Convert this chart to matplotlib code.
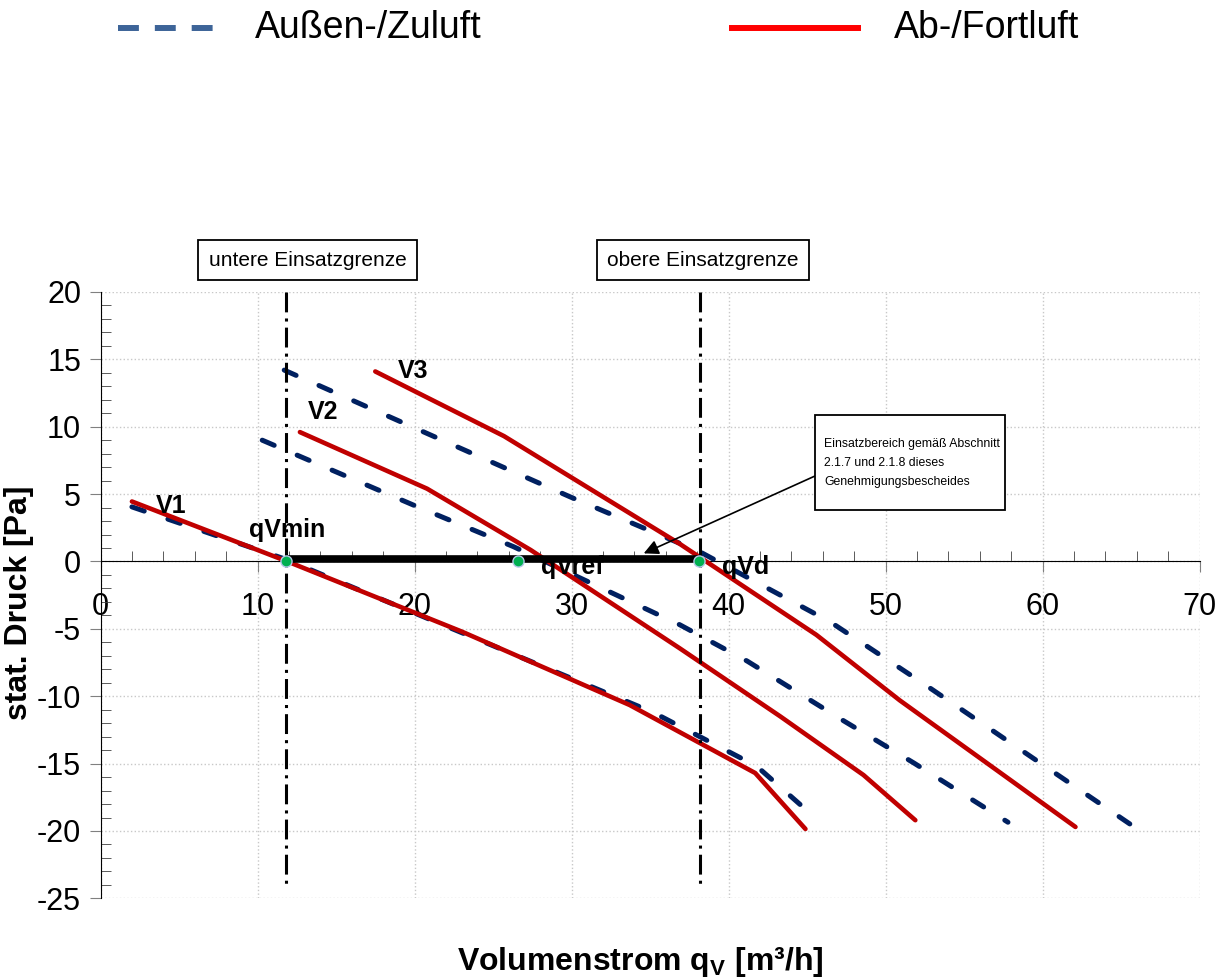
import numpy as np
import matplotlib.pyplot as plt
from matplotlib.lines import Line2D
from matplotlib.patches import Rectangle
from matplotlib.ticker import MultipleLocator

plt.rcParams['font.family'] = ['Liberation Sans', 'DejaVu Sans']
plt.rcParams['mathtext.fontset'] = 'custom'
plt.rcParams['mathtext.rm'] = 'Liberation Sans'
plt.rcParams['mathtext.bf'] = 'Liberation Sans:bold'
plt.rcParams['axes.unicode_minus'] = False

# Außen-/Zuluft (gestrichelt), Volumenstrom [m³/h] / stat. Druck [Pa]
zu_v1_q = [2.0, 11.7, 28.4, 35.2, 41.8, 45.5]
zu_v1_p = [4.05, 0.2, -7.9, -11.2, -15.2, -19.0]
zu_v2_q = [10.3, 19.9, 26.3, 36.9, 41.2, 47.3, 51.8, 57.8]
zu_v2_p = [9.0, 4.2, 1.1, -4.7, -7.4, -11.8, -14.95, -19.35]
zu_v3_q = [11.7, 29.9, 38.2, 46.5, 52.4, 66.6]
zu_v3_p = [14.2, 4.8, 0.7, -4.5, -9.05, -20.3]

# Ab-/Fortluft (durchgezogen)
ab_v1_q = [2.0, 11.9, 23.0, 33.7, 41.7, 44.9]
ab_v1_p = [4.45, 0.0, -5.2, -10.65, -15.7, -19.85]
ab_v2_q = [12.7, 20.8, 27.4, 36.9, 43.3, 48.6, 51.9]
ab_v2_p = [9.6, 5.4, 0.85, -6.45, -11.5, -15.85, -19.2]
ab_v3_q = [17.5, 25.7, 29.9, 36.9, 45.6, 50.9, 57.1, 62.1]
ab_v3_p = [14.1, 9.3, 6.3, 1.3, -5.45, -10.3, -15.5, -19.7]

# Betriebspunkte und Einsatzgrenzen
punkt_namen = ['qVmin', 'qVref', 'qVd']
punkt_q = [11.8, 26.6, 38.1]
grenze_unten = 11.8
grenze_oben = 38.2

NAVY = '#002060'
DKRED = '#C00000'

fig = plt.figure(figsize=(12.2, 9.8), dpi=100)
ax = fig.add_axes([0.0824, 0.0833, 0.9008, 0.6188])

for q, p in [(zu_v1_q, zu_v1_p), (zu_v2_q, zu_v2_p), (zu_v3_q, zu_v3_p)]:
    ax.plot(q, p, color=NAVY, lw=3.6, linestyle=(0, (2.6, 5.0)),
            dash_capstyle='round', zorder=3)
for q, p in [(ab_v1_q, ab_v1_p), (ab_v2_q, ab_v2_p), (ab_v3_q, ab_v3_p)]:
    ax.plot(q, p, color=DKRED, lw=3.3, solid_capstyle='round', zorder=4)

# Einsatzgrenzen
for g in [grenze_unten, grenze_oben]:
    ax.plot([g, g], [20, -24.3], color='black', lw=2.2,
            linestyle=(0, (6.5, 2, 1, 2)), zorder=5)

# Einsatzbereich
ax.plot([punkt_q[0], punkt_q[2]], [0.15, 0.15], color='black', lw=5.5,
        solid_capstyle='butt', zorder=6)
ax.plot(punkt_q, [0, 0, 0], 'o', ms=8, mfc='#00B050', mec='#B4C7E7',
        mew=1, zorder=7)

lbl = dict(fontsize=18, fontweight='bold', va='center', ha='left', zorder=8)
ax.text(3.5, 4.1, 'V1', **lbl)
ax.text(13.2, 11.06, 'V2', **lbl)
ax.text(18.95, 14.1, 'V3', **lbl)
ax.text(9.46, 2.3, punkt_namen[0], **lbl)
ax.text(28.05, -0.4, punkt_namen[1], **lbl)
ax.text(39.6, -0.4, punkt_namen[2], **lbl)

# Hinweis mit Pfeil
fig.add_artist(Rectangle((815 / 1220, 1 - 510 / 980), 190 / 1220, 95 / 980,
                         transform=fig.transFigure, fc='white', ec='black',
                         lw=1.3, zorder=9))
fig.text(824 / 1220, 1 - 463 / 980,
         'Einsatzbereich gemäß Abschnitt\n2.1.7 und 2.1.8 dieses\nGenehmigungsbescheides',
         fontsize=8.8, linespacing=1.75, ha='left', va='center', zorder=10)
ax.annotate('', xy=(34.6, 0.6), xycoords='data', xytext=(815, 504),
            textcoords='figure pixels',
            arrowprops=dict(arrowstyle='-|>', color='black', lw=1.2,
                            mutation_scale=22, shrinkA=0, shrinkB=0),
            zorder=9)

# Achsen
ax.set_xlim(0, 70)
ax.set_ylim(-25, 20)
ax.spines['top'].set_visible(False)
ax.spines['right'].set_visible(False)
ax.spines['bottom'].set_position(('data', 0))
ax.xaxis.set_major_locator(MultipleLocator(10))
ax.xaxis.set_minor_locator(MultipleLocator(2))
ax.yaxis.set_major_locator(MultipleLocator(5))
ax.yaxis.set_minor_locator(MultipleLocator(1))
ax.tick_params(axis='both', which='major', direction='out', length=8,
               color='#808080', labelsize=22)
ax.tick_params(axis='both', which='minor', direction='in', length=7,
               color='#404040')
ax.tick_params(axis='x', which='major', pad=14)
ax.tick_params(axis='y', which='major', pad=6)
ax.grid(True, which='major', color='#C8C8C8', linestyle=':', lw=1)
ax.set_axisbelow(True)

fig.text(19 / 1220, 1 - 603 / 980, 'stat. Druck [Pa]', rotation=90,
         fontsize=23, fontweight='bold', ha='center', va='center')
fig.text(640 / 1220, 1 - 962 / 980, r'Volumenstrom q$_\mathbf{V}$ [m³/h]',
         fontsize=23, fontweight='bold', ha='center', va='center')

box = dict(boxstyle='square,pad=0.5', fc='white', ec='black', lw=1.3)
fig.text(307.5 / 1220, 1 - 260 / 980, 'untere Einsatzgrenze', fontsize=15,
         ha='center', va='center', bbox=box)
fig.text(703 / 1220, 1 - 260 / 980, 'obere Einsatzgrenze', fontsize=15,
         ha='center', va='center', bbox=box)

# Legende oben
ly = 1 - 28 / 980
fig.add_artist(Line2D([118 / 1220, 214 / 1220], [ly, ly], color='#3D6498', lw=4.3,
                      linestyle=(0, (3.5, 2.67)), transform=fig.transFigure))
fig.text(255 / 1220, ly, 'Außen-/Zuluft', fontsize=27, ha='left', va='center')
fig.add_artist(Line2D([732 / 1220, 858 / 1220], [ly, ly], color='#FF0000', lw=4.3,
                      transform=fig.transFigure))
fig.text(894 / 1220, ly, 'Ab-/Fortluft', fontsize=27, ha='left', va='center')

fig.savefig('out.png', dpi=100)
